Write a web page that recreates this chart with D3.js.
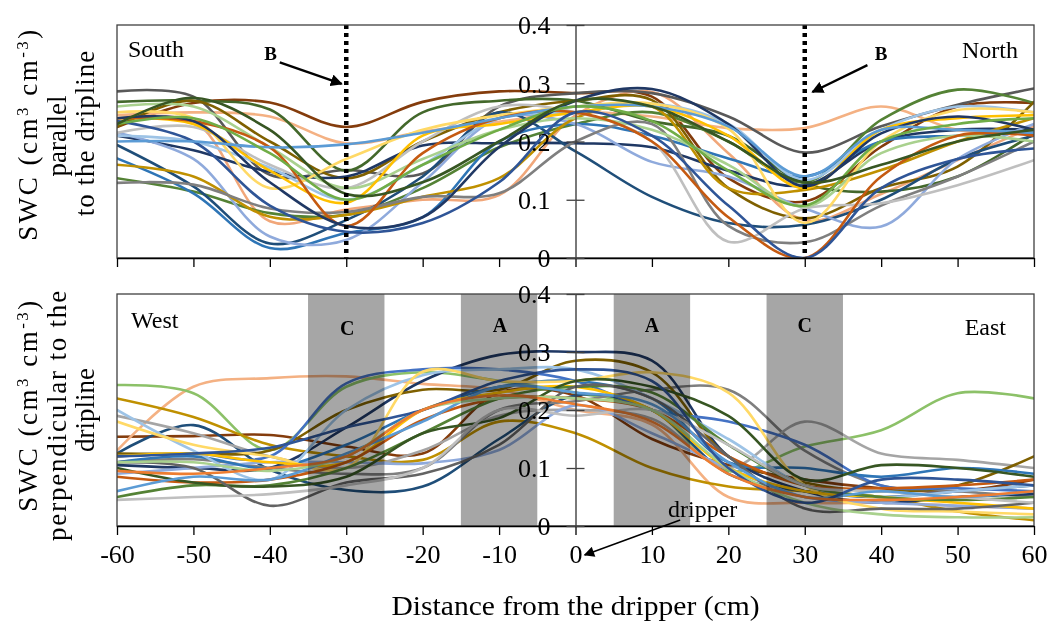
<!DOCTYPE html>
<html>
<head>
<meta charset="utf-8">
<script src="https://cdn.jsdelivr.net/npm/d3@7"></script>
<style>
  html, body { margin: 0; padding: 0; background: #fff; }
  svg text { font-family: "Liberation Serif", "DejaVu Serif", serif; fill: #000; }
</style>
</head>
<body>
<svg id="chart" width="1054" height="623"></svg>
<script>
// Distances from the dripper (cm) at which soil water content was read
const distances = [-60, -50, -40, -30, -20, -10, 0, 10, 20, 30, 40, 50, 60];
const xTicks = [-60, -50, -40, -30, -20, -10, 0, 10, 20, 30, 40, 50, 60];
const yTicks = [0, 0.1, 0.2, 0.3, 0.4];

// SWC (cm3 cm-3) along the dripline (South -> North), one row per date
const parallelSwc = [
  [0.225, 0.266, 0.267, 0.225, 0.268, 0.286, 0.283, 0.277, 0.137, 0.097, 0.191, 0.260, 0.266],
  [0.245, 0.250, 0.243, 0.197, 0.217, 0.234, 0.250, 0.243, 0.223, 0.223, 0.260, 0.220, 0.214],
  [0.230, 0.235, 0.063, 0.083, 0.100, 0.108, 0.245, 0.285, 0.180, 0.065, 0.110, 0.168, 0.226],
  [0.286, 0.277, 0.143, 0.151, 0.145, 0.260, 0.283, 0.283, 0.243, 0.181, 0.226, 0.263, 0.291],
  [0.268, 0.270, 0.255, 0.150, 0.250, 0.270, 0.270, 0.235, 0.210, 0.128, 0.114, 0.140, 0.214],
  [0.137, 0.114, 0.077, 0.074, 0.120, 0.190, 0.230, 0.250, 0.200, 0.130, 0.237, 0.289, 0.266],
  [0.225, 0.270, 0.200, 0.137, 0.200, 0.250, 0.270, 0.271, 0.120, 0.068, 0.120, 0.157, 0.268],
  [0.210, 0.185, 0.148, 0.140, 0.193, 0.197, 0.197, 0.190, 0.150, 0.125, 0.200, 0.220, 0.220],
  [0.194, 0.123, 0.025, 0.065, 0.140, 0.250, 0.183, 0.105, 0.060, 0.057, 0.100, 0.170, 0.210],
  [0.171, 0.111, 0.017, 0.043, 0.070, 0.200, 0.230, 0.210, 0.171, 0.140, 0.200, 0.210, 0.215],
  [0.215, 0.170, 0.037, 0.031, 0.130, 0.240, 0.230, 0.165, 0.140, 0.085, 0.054, 0.170, 0.230],
  [0.160, 0.140, 0.071, 0.074, 0.105, 0.137, 0.240, 0.260, 0.120, 0.117, 0.151, 0.200, 0.240],
  [0.129, 0.126, 0.085, 0.079, 0.105, 0.111, 0.200, 0.230, 0.055, 0.027, 0.090, 0.140, 0.200],
  [0.215, 0.225, 0.160, 0.120, 0.200, 0.260, 0.250, 0.200, 0.028, 0.085, 0.094, 0.125, 0.168],
  [0.210, 0.200, 0.155, 0.100, 0.160, 0.240, 0.250, 0.265, 0.230, 0.134, 0.220, 0.260, 0.250],
  [0.260, 0.260, 0.190, 0.120, 0.170, 0.220, 0.240, 0.220, 0.160, 0.088, 0.180, 0.210, 0.200],
  [0.250, 0.240, 0.120, 0.170, 0.220, 0.245, 0.260, 0.265, 0.222, 0.060, 0.200, 0.254, 0.250],
  [0.240, 0.230, 0.150, 0.095, 0.210, 0.230, 0.250, 0.260, 0.210, 0.120, 0.220, 0.240, 0.245],
  [0.240, 0.235, 0.190, 0.055, 0.180, 0.240, 0.250, 0.200, 0.070, 0.000, 0.140, 0.210, 0.210],
  [0.235, 0.200, 0.090, 0.045, 0.060, 0.130, 0.250, 0.210, 0.090, 0.000, 0.120, 0.170, 0.188],
  [0.240, 0.235, 0.130, 0.055, 0.070, 0.190, 0.270, 0.290, 0.230, 0.123, 0.214, 0.243, 0.220],
  [0.200, 0.200, 0.190, 0.195, 0.215, 0.240, 0.260, 0.260, 0.226, 0.140, 0.220, 0.220, 0.215],
  [0.230, 0.240, 0.180, 0.100, 0.160, 0.220, 0.260, 0.235, 0.150, 0.090, 0.200, 0.230, 0.240],
  [0.230, 0.275, 0.220, 0.110, 0.130, 0.200, 0.270, 0.260, 0.200, 0.130, 0.160, 0.200, 0.220]
];
const parallelColors = [
  "#843C0C", "#F4B183", "#F1A77A", "#595959", "#43682B", "#548235", "#7F6000", "#1F3864",
  "#1F4E79", "#2E75B6", "#8FAADC", "#BF9000", "#7F7F7F", "#BFBFBF", "#9DC3E6", "#A9D18E",
  "#FFD966", "#FFC000", "#C55A11", "#2F5597", "#203864", "#5B9BD5", "#70AD47", "#375623"
];

// SWC (cm3 cm-3) across the dripline (West -> East), one row per date
const perpendicularSwc = [
  [0.154, 0.155, 0.157, 0.137, 0.125, 0.230, 0.225, 0.150, 0.105, 0.080, 0.065, 0.060, 0.080],
  [0.130, 0.240, 0.255, 0.258, 0.245, 0.235, 0.200, 0.175, 0.050, 0.040, 0.040, 0.035, 0.030],
  [0.243, 0.229, 0.131, 0.240, 0.265, 0.250, 0.230, 0.200, 0.095, 0.137, 0.165, 0.229, 0.220],
  [0.220, 0.188, 0.140, 0.120, 0.114, 0.180, 0.160, 0.100, 0.068, 0.060, 0.050, 0.025, 0.010],
  [0.125, 0.174, 0.097, 0.062, 0.068, 0.150, 0.225, 0.200, 0.090, 0.060, 0.050, 0.060, 0.070],
  [0.110, 0.115, 0.100, 0.090, 0.100, 0.200, 0.215, 0.235, 0.235, 0.130, 0.070, 0.060, 0.050],
  [0.190, 0.160, 0.120, 0.100, 0.130, 0.190, 0.200, 0.185, 0.100, 0.180, 0.125, 0.114, 0.100],
  [0.105, 0.100, 0.100, 0.170, 0.250, 0.295, 0.300, 0.285, 0.120, 0.060, 0.040, 0.050, 0.055],
  [0.125, 0.125, 0.130, 0.200, 0.235, 0.235, 0.285, 0.265, 0.120, 0.075, 0.060, 0.070, 0.120],
  [0.090, 0.100, 0.110, 0.110, 0.108, 0.131, 0.208, 0.160, 0.100, 0.050, 0.040, 0.035, 0.030],
  [0.120, 0.125, 0.120, 0.246, 0.270, 0.270, 0.250, 0.200, 0.180, 0.140, 0.070, 0.065, 0.060],
  [0.110, 0.120, 0.100, 0.140, 0.200, 0.240, 0.250, 0.220, 0.110, 0.100, 0.085, 0.100, 0.090],
  [0.200, 0.130, 0.080, 0.200, 0.260, 0.270, 0.270, 0.220, 0.150, 0.070, 0.050, 0.060, 0.070],
  [0.180, 0.140, 0.120, 0.100, 0.266, 0.250, 0.250, 0.265, 0.230, 0.070, 0.030, 0.025, 0.020],
  [0.120, 0.125, 0.110, 0.110, 0.200, 0.230, 0.240, 0.200, 0.100, 0.060, 0.050, 0.040, 0.030],
  [0.085, 0.075, 0.080, 0.110, 0.183, 0.220, 0.220, 0.200, 0.120, 0.070, 0.065, 0.070, 0.080],
  [0.050, 0.070, 0.070, 0.100, 0.160, 0.220, 0.240, 0.230, 0.140, 0.070, 0.050, 0.045, 0.050],
  [0.100, 0.075, 0.068, 0.085, 0.160, 0.186, 0.250, 0.240, 0.190, 0.080, 0.105, 0.100, 0.085],
  [0.110, 0.100, 0.035, 0.075, 0.090, 0.140, 0.240, 0.220, 0.120, 0.030, 0.030, 0.030, 0.040],
  [0.045, 0.050, 0.055, 0.070, 0.100, 0.200, 0.190, 0.200, 0.140, 0.070, 0.060, 0.050, 0.040],
  [0.060, 0.085, 0.080, 0.125, 0.180, 0.240, 0.230, 0.210, 0.110, 0.050, 0.060, 0.050, 0.060],
  [0.110, 0.110, 0.095, 0.120, 0.200, 0.220, 0.220, 0.200, 0.100, 0.040, 0.020, 0.015, 0.015],
  [0.120, 0.125, 0.135, 0.170, 0.200, 0.250, 0.270, 0.250, 0.100, 0.040, 0.080, 0.080, 0.070],
  [0.095, 0.090, 0.100, 0.120, 0.200, 0.225, 0.210, 0.180, 0.090, 0.050, 0.045, 0.050, 0.060]
];
const perpendicularColors = [
  "#843C0C", "#F4B183", "#8CC168", "#BF9000", "#1F4E79", "#7F7F7F", "#A5A5A5", "#1F3864",
  "#7F6000", "#8FAADC", "#4472C4", "#2E75B6", "#9DC3E6", "#FFD966", "#FFC000", "#C55A11",
  "#548235", "#375623", "#636363", "#BFBFBF", "#5B9BD5", "#A9D18E", "#2F5597", "#ED7D31"
];

// Wetted-zone bands (cm) in the cross-dripline profile
const bandRanges = [[-35, -25], [-15, -5], [5, 15], [25, 35]];
const bandLabels = ["C", "A", "A", "C"];

const svg = d3.select("#chart");
const left = 117, right = 1034;
const x = d3.scaleLinear().domain([-60, 60]).range([left, right]);
const yTop = d3.scaleLinear().domain([0, 0.4]).range([258, 25]);
const yBot = d3.scaleLinear().domain([0, 0.4]).range([526, 294]);

const defs = svg.append("defs");
defs.append("marker").attr("id", "arrow")
  .attr("viewBox", "0 0 10 10").attr("refX", 9).attr("refY", 5)
  .attr("markerWidth", 5).attr("markerHeight", 5).attr("orient", "auto")
  .attr("markerUnits", "strokeWidth")
  .append("path").attr("d", "M0,0 L10,5 L0,10 z").attr("fill", "#000");
defs.append("marker").attr("id", "arrowThin")
  .attr("viewBox", "0 0 10 10").attr("refX", 9).attr("refY", 5)
  .attr("markerWidth", 9).attr("markerHeight", 7).attr("orient", "auto")
  .attr("markerUnits", "strokeWidth")
  .append("path").attr("d", "M0,0 L10,5 L0,10 z").attr("fill", "#000");

function panel(id, y, rows, colors) {
  const g = svg.append("g");
  defs.append("clipPath").attr("id", id)
    .append("rect").attr("x", left).attr("y", y.range()[1])
    .attr("width", right - left).attr("height", y.range()[0] - y.range()[1]);

  const line = d3.line()
    .x((d, i) => x(distances[i]))
    .y(d => y(d))
    .curve(d3.curveCatmullRom.alpha(0.5));

  const lines = g.append("g").attr("clip-path", `url(#${id})`);
  lines.selectAll("path").data(rows).join("path")
    .attr("d", line)
    .attr("fill", "none")
    .attr("stroke", (d, i) => colors[i])
    .attr("stroke-width", 2.6)
    .attr("stroke-linejoin", "round")
    .attr("stroke-linecap", "round");
  return g;
}

function frame(g, y, showLabels) {
  // plot border
  g.append("rect").attr("x", left).attr("y", y.range()[1])
    .attr("width", right - left).attr("height", y.range()[0] - y.range()[1])
    .attr("fill", "none").attr("stroke", "#404040").attr("stroke-width", 1.3);

  // distance axis along the bottom edge
  const ax = g.append("g").attr("transform", `translate(0,${y.range()[0]})`)
    .call(d3.axisBottom(x).tickValues(xTicks).tickSize(9).tickSizeOuter(0)
      .tickPadding(10)
      .tickFormat(showLabels ? (d => String(d)) : () => ""));
  ax.select(".domain").attr("stroke", "#000").attr("stroke-width", 1.5);
  ax.selectAll(".tick line").attr("stroke", "#000").attr("stroke-width", 1.3);
  ax.selectAll("text").attr("font-size", 26).attr("font-family", "Liberation Serif");

  // SWC axis through the dripper position, ticks crossing both sides
  const ay = g.append("g").attr("transform", `translate(${x(0)},0)`)
    .call(d3.axisLeft(y).tickValues(yTicks).tickSize(9).tickSizeOuter(0)
      .tickPadding(16).tickFormat(d => String(d)));
  ay.select(".domain").attr("stroke", "#404040").attr("stroke-width", 1.4);
  ay.selectAll(".tick line").attr("stroke", "#404040").attr("stroke-width", 1.3);
  ay.selectAll("text").attr("font-size", 26).attr("font-family", "Liberation Serif")
    .attr("dy", "0.34em");
  const ay2 = g.append("g").attr("transform", `translate(${x(0)},0)`)
    .call(d3.axisRight(y).tickValues(yTicks).tickSize(9).tickSizeOuter(0).tickFormat(""));
  ay2.select(".domain").remove();
  ay2.selectAll(".tick line").attr("stroke", "#404040").attr("stroke-width", 1.3);
}

// ---- Parallel to the dripline ----
const gTop = panel("clipTop", yTop, parallelSwc, parallelColors);

// sampling position B at +/- 30 cm
gTop.selectAll("line.bline").data([-30, 30]).join("line")
  .attr("class", "bline")
  .attr("x1", d => x(d)).attr("x2", d => x(d))
  .attr("y1", yTop(0.4)).attr("y2", yTop(0))
  .attr("stroke", "#000").attr("stroke-width", 4.5)
  .attr("stroke-dasharray", "4,4");

frame(gTop, yTop, false);

gTop.append("text").attr("x", 128).attr("y", 57).attr("font-size", 24).text("South");
gTop.append("text").attr("x", 1018).attr("y", 58).attr("font-size", 24)
  .attr("text-anchor", "end").text("North");

// B callouts
const bCallouts = [
  { label: x(-39.9), from: [-38.7, 0.336], to: [-30.6, 0.299] },
  { label: x(40.0), from: [38.2, 0.331], to: [31.0, 0.285] }
];
bCallouts.forEach(c => {
  gTop.append("text").attr("x", c.label).attr("y", 60).attr("text-anchor", "middle")
    .attr("font-size", 19).attr("font-weight", "bold").text("B");
  gTop.append("line")
    .attr("x1", x(c.from[0])).attr("y1", yTop(c.from[1]))
    .attr("x2", x(c.to[0])).attr("y2", yTop(c.to[1]))
    .attr("stroke", "#000").attr("stroke-width", 2.4)
    .attr("marker-end", "url(#arrow)");
});

// ---- Perpendicular to the dripline ----
const gBot = panel("clipBot", yBot, perpendicularSwc, perpendicularColors);

gBot.selectAll("rect.band").data(bandRanges).join("rect")
  .attr("class", "band")
  .attr("x", d => x(d[0])).attr("width", d => x(d[1]) - x(d[0]))
  .attr("y", yBot(0.4)).attr("height", yBot(0) - yBot(0.4))
  .attr("fill", "#a6a6a6")
  .style("mix-blend-mode", "multiply");

frame(gBot, yBot, true);

gBot.selectAll("text.band").data(bandRanges).join("text")
  .attr("class", "band")
  .attr("x", d => x((d[0] + d[1]) / 2) + (d[0] < 0 ? 1 : 0))
  .attr("y", (d, i) => i === 0 ? 335 : 332)
  .attr("text-anchor", "middle").attr("font-size", 20).attr("font-weight", "bold")
  .text((d, i) => bandLabels[i]);

gBot.append("text").attr("x", 131).attr("y", 328).attr("font-size", 24).text("West");
gBot.append("text").attr("x", 1006).attr("y", 335).attr("font-size", 24)
  .attr("text-anchor", "end").text("East");

gBot.append("text").attr("x", 668).attr("y", 517).attr("font-size", 24).text("dripper");
gBot.append("line")
  .attr("x1", x(13.7)).attr("y1", yBot(0) - 6)
  .attr("x2", x(1.2)).attr("y2", yBot(0) + 29)
  .attr("stroke", "#000").attr("stroke-width", 1.5)
  .attr("marker-end", "url(#arrowThin)");

// ---- Axis titles ----
svg.append("text").attr("x", x(0)).attr("y", 615).attr("text-anchor", "middle")
  .attr("font-size", 27).attr("textLength", 368).attr("lengthAdjust", "spacingAndGlyphs")
  .text("Distance from the dripper (cm)");

// rotated title: first line carries the unit, following lines the description
function swcTitle(centers, spacing, lines) {
  const first = svg.append("text")
    .attr("transform", `translate(37,${centers[0]}) rotate(-90)`)
    .attr("text-anchor", "middle").attr("font-size", 27)
    .attr("letter-spacing", spacing[0]);
  first.append("tspan").text("SWC (cm");
  first.append("tspan").attr("baseline-shift", "super").attr("font-size", 17).text("3");
  first.append("tspan").text(" cm");
  first.append("tspan").attr("baseline-shift", "super").attr("font-size", 17).text("-3");
  first.append("tspan").text(")");
  lines.forEach((s, i) => {
    svg.append("text")
      .attr("transform", `translate(${66 + i * 28},${centers[i + 1]}) rotate(-90)`)
      .attr("text-anchor", "middle").attr("font-size", 27)
      .attr("letter-spacing", spacing[i + 1])
      .text(s);
  });
}
swcTitle([134, 136, 133], [2.5, 0, 1], ["parallel", "to the dripline"]);
swcTitle([405, 415, 410], [2.5, 1.8, 0], ["perpendicular to the", "dripline"]);
</script>
</body>
</html>
